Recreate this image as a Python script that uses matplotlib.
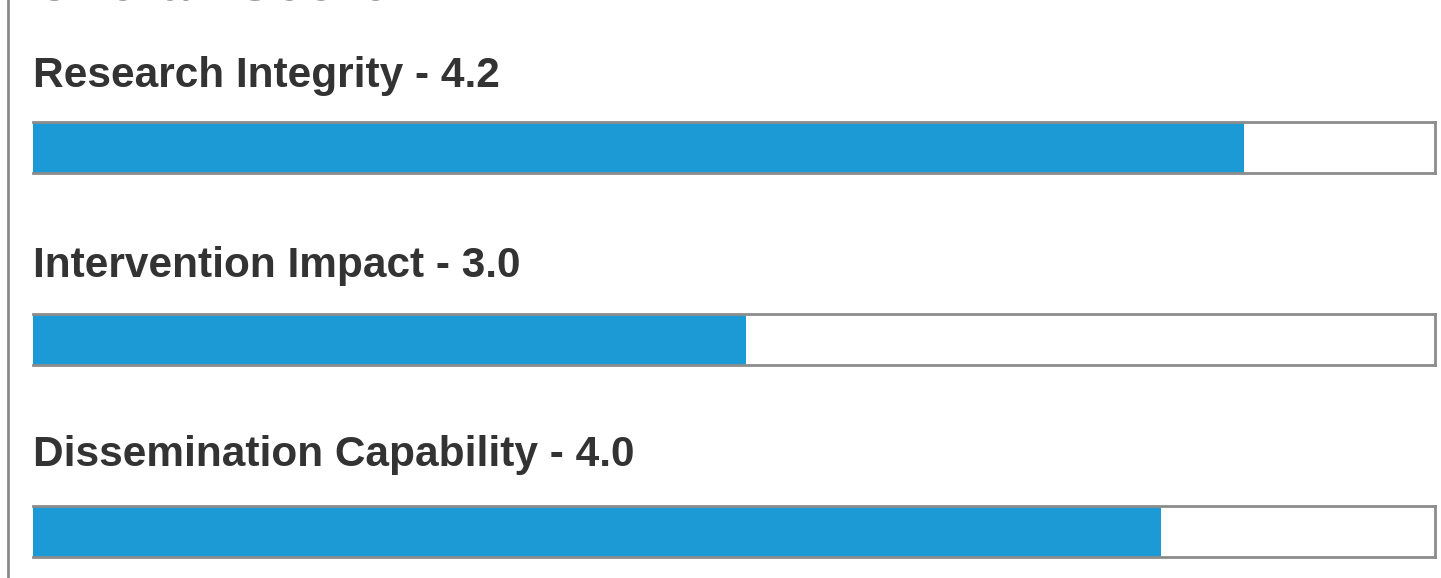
import matplotlib
matplotlib.use("Agg")
import matplotlib.pyplot as plt
from matplotlib.lines import Line2D

plt.rcParams['font.family'] = ['Liberation Sans', 'DejaVu Sans']

# score data
criteria = ["Research Integrity", "Intervention Impact", "Dissemination Capability"]
scores = [4.2, 3.0, 4.0]
title = "Overall Score"

# range covered by the grey track
scale_min, scale_max = 1.28, 4.66

W, H = 1441, 578
fig = plt.figure(figsize=(W / 100, H / 100), dpi=100)
fig.patch.set_facecolor("white")

# panel border on the left
fig.add_artist(Line2D([7.5 / W, 7.5 / W], [0, 1], transform=fig.transFigure,
                      color="#8a8a8a", lw=2))

# heading, mostly scrolled off the top
fig.text(33 / W, 1.0, title, fontsize=40, fontweight="bold",
         color="#333333", va="baseline", ha="left")

track_left, track_width, track_h = 33, 1402, 51
track_tops = [122, 314, 506]
label_baselines = [87, 277, 466]

for name, val, top, base in zip(criteria, scores, track_tops, label_baselines):
    ax = fig.add_axes([track_left / W, 1 - (top + track_h) / H,
                       track_width / W, track_h / H])
    ax.barh(0, val - scale_min, left=scale_min, height=1.0,
            color="#1b9ad6", edgecolor="none")
    ax.set_xlim(scale_min, scale_max)
    ax.set_ylim(-0.5, 0.5)
    ax.set_xticks([])
    ax.set_yticks([])
    for s in ax.spines.values():
        s.set_color("#8c8c8c")
        s.set_linewidth(2)
    ax.spines["left"].set_visible(False)

    fig.text(track_left / W, 1 - base / H, f"{name} - {val:.1f}",
             fontsize=30.5, fontweight="bold", color="#333333",
             va="baseline", ha="left")

fig.savefig("out.png", dpi=100, facecolor="white")
